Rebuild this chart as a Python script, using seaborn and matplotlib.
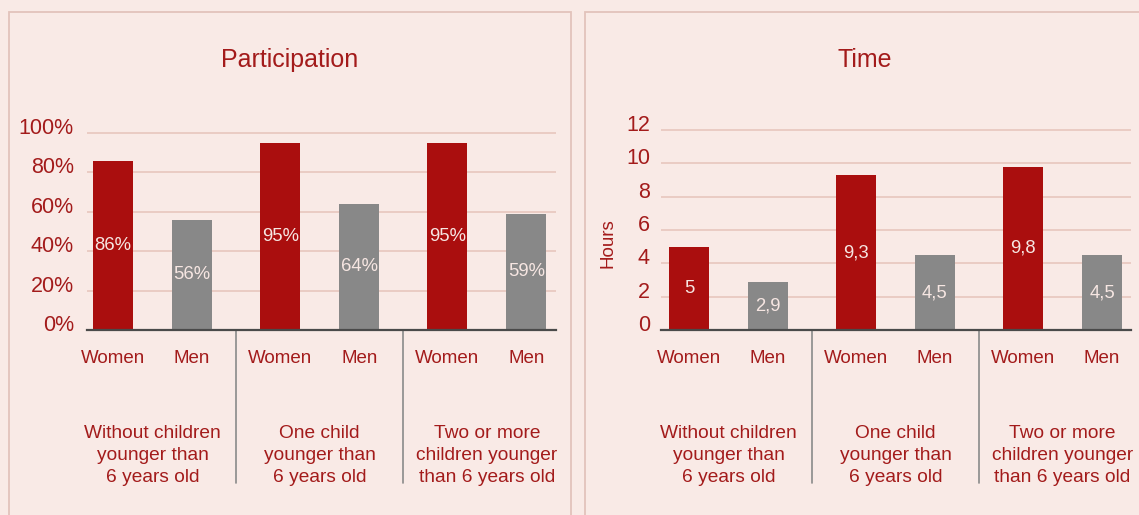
import matplotlib
matplotlib.use("Agg")
import matplotlib.pyplot as plt
import matplotlib.transforms as mtransforms
from matplotlib.patches import Rectangle
import pandas as pd
import seaborn as sns

# ---- data ----
groups = ["none", "one", "two_plus"]
group_labels = [
    "Without children\nyounger than\n6 years old",
    "One child\nyounger than\n6 years old",
    "Two or more\nchildren younger\nthan 6 years old",
]
sexes = ["Women", "Men"]
participation_women = [86, 95, 95]
participation_men = [56, 64, 59]
time_women = [5, 9.3, 9.8]
time_men = [2.9, 4.5, 4.5]
participation_ticks = [0, 20, 40, 60, 80, 100]
participation_ticklabels = ["0%", "20%", "40%", "60%", "80%", "100%"]
time_ticks = [0, 2, 4, 6, 8, 10, 12]

# ---- style ----
BG = "#F9EAE6"
RED = "#AA0E0E"
GREY = "#888888"
TXT = "#A31B1B"
GRID = "#E8C6BE"
LABEL = "#F6E6E2"
BORDER = "#E2C3BB"

sns.set_theme(style="white")
plt.rcParams["font.family"] = ["Liberation Sans", "DejaVu Sans"]

W, H = 1139, 515
fig = plt.figure(figsize=(W / 100, H / 100), dpi=100, facecolor=BG)

# panel frames
for x0, x1 in [(9, 571), (585, 1150)]:
    fig.patches.append(Rectangle((x0 / W, -0.05), (x1 - x0) / W, (H - 12) / H + 0.05,
                                 transform=fig.transFigure, facecolor="none",
                                 edgecolor=BORDER, linewidth=1.3))


def long_frame(women, men):
    rows = []
    for g, w, m in zip(groups, women, men):
        rows.append({"group": g, "sex": "Women", "value": w})
        rows.append({"group": g, "sex": "Men", "value": m})
    return pd.DataFrame(rows)


def panel(rect, df, ymax, ticks, ticklabels, title, label_fmt, title_x, xlim, ypad):
    ax = fig.add_axes(rect)
    ax.set_facecolor("none")
    sns.barplot(data=df, x="group", y="value", hue="sex", order=groups,
                hue_order=sexes, palette={"Women": RED, "Men": GREY},
                width=0.946, gap=0.49, saturation=1, linewidth=0,
                legend=False, ax=ax)
    ax.set_ylim(0, ymax)
    ax.set_xlim(*xlim)
    ax.yaxis.grid(True, color=GRID, linewidth=1.2)
    ax.set_axisbelow(True)
    for s in ["left", "right", "top"]:
        ax.spines[s].set_visible(False)
    ax.spines["bottom"].set_color("#4A4A4A")
    ax.spines["bottom"].set_linewidth(1.6)
    ax.spines["bottom"].set_zorder(5)
    ax.tick_params(axis="y", length=0, pad=ypad)
    ax.tick_params(axis="x", length=0, pad=14.5)

    off = 0.946 / 4
    xt, xl = [], []
    for i in range(len(groups)):
        xt += [i - off, i + off]
        xl += sexes
    ax.set_xticks(xt)
    ax.set_xticklabels(xl, fontsize=13.5, color=TXT)
    ax.set_yticks(ticks)
    ax.set_yticklabels(ticklabels, fontsize=15.5, color=TXT)
    # tick numbers sit a little above their gridlines
    lift = mtransforms.ScaledTranslation(0, 7 / 100, fig.dpi_scale_trans)
    for lab in ax.get_yticklabels():
        lab.set_transform(lab.get_transform() + lift)
    ax.set_xlabel("")
    ax.set_ylabel("")

    for cont, vals in zip(ax.containers, [df[df.sex == s].value.tolist() for s in sexes]):
        ax.bar_label(cont, labels=[label_fmt(v) for v in vals], label_type="center",
                     color=LABEL, fontsize=13.3)

    # group separators and captions below the axis
    ax_h_px = rect[3] * H
    trans = mtransforms.blended_transform_factory(ax.transData, ax.transAxes)
    for i in range(len(groups) - 1):
        ax.plot([i + 0.5, i + 0.5], [0, -153 / ax_h_px], transform=trans,
                color="#8A8A8A", linewidth=1.2, clip_on=False)
    for i, lab in enumerate(group_labels):
        ax.annotate(lab, xy=(i, 0), xycoords=trans, xytext=(0, -95),
                    textcoords="offset pixels", ha="center", va="top",
                    fontsize=13.8, color=TXT, linespacing=1.38)

    fig.text(title_x / W, 1 - 60 / H, title, ha="center", va="center",
             fontsize=18, color=TXT)
    return ax


base = (H - 330) / H
part_df = long_frame(participation_women, participation_men)
panel([87 / W, base, (556 - 87) / W, 197 * 1.02 / H], part_df, 102,
      participation_ticks, participation_ticklabels, "Participation",
      lambda v: f"{v:g}%", 290, (-0.393, 2.414), ypad=9.5)

time_df = long_frame(time_women, time_men)
panel([661 / W, base, (1131 - 661) / W, 200 * 12.2 / 12 / H], time_df, 12.2,
      time_ticks, [str(t) for t in time_ticks], "Time",
      lambda v: f"{v:g}".replace(".", ","), 865, (-0.404, 2.41), ypad=8)

fig.text(608 / W, 1 - 243 / H, "Hours", rotation=90, ha="center", va="center",
         fontsize=13.5, color=TXT)

fig.savefig("out.png", dpi=100, facecolor=BG)
